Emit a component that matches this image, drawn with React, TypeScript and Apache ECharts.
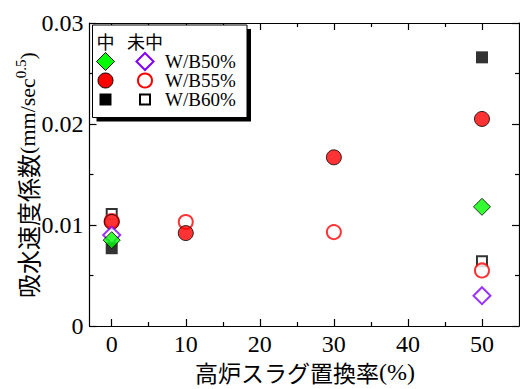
import React, { useEffect, useRef } from "react";
import * as echarts from "echarts";

// Blast-furnace slag replacement ratio (%) and water absorption rate coefficient (mm/sec^0.5)
const wb50Carb: [number, number][] = [[0, 0.0085], [50, 0.0118]];
const wb50NonCarb: [number, number][] = [[0, 0.009], [50, 0.003]];
const wb55Carb: [number, number][] = [[0, 0.0103], [10, 0.0092], [30, 0.0167], [50, 0.0205]];
const wb55NonCarb: [number, number][] = [[0, 0.0104], [10, 0.0103], [30, 0.0093], [50, 0.0055]];
const wb60Carb: [number, number][] = [[0, 0.0077], [50, 0.0266]];
const wb60NonCarb: [number, number][] = [[0, 0.0111], [50, 0.0064]];

const xMajorTicks = [0, 10, 20, 30, 40, 50];
const xMinorTicks = [5, 15, 25, 35, 45];
const legendLabels = ["W/B50%", "W/B55%", "W/B60%"];
const legendHeader = ["中", "未中"];

const SERIF = "'Times New Roman', 'Liberation Serif', serif";
const CJK = "'Noto Sans CJK JP', sans-serif";
const GREEN = "#00ff00";
const RED = "#ff0000";
const PURPLE = "#8000ff";

export default function App() {
  const ref = useRef<HTMLDivElement>(null);

  useEffect(() => {
    if (!ref.current) return;
    const chart = echarts.init(ref.current, undefined, { renderer: "svg" });

    const axisLine = { show: true, onZero: false, lineStyle: { color: "#000", width: 1.2 } };
    const tickStyle = { color: "#000", width: 1.2 };
    const tickLabel = { fontFamily: SERIF, fontSize: 24, color: "#000" };

    const xAxisBase = {
      type: "value" as const,
      min: -3,
      max: 55,
      splitLine: { show: false },
      axisLine,
    };

    const xAxes = [
      {
        ...xAxisBase,
        position: "bottom",
        axisTick: { inside: true, length: 7, customValues: xMajorTicks, lineStyle: tickStyle },
        axisLabel: { ...tickLabel, customValues: xMajorTicks, margin: 6 },
      },
      {
        ...xAxisBase,
        position: "bottom",
        axisLine: { show: false, onZero: false },
        axisTick: { inside: true, length: 4, customValues: xMinorTicks, lineStyle: tickStyle },
        axisLabel: { show: false },
      },
      {
        ...xAxisBase,
        position: "top",
        axisTick: { inside: true, length: 7, customValues: xMajorTicks, lineStyle: tickStyle },
        axisLabel: { show: false },
      },
      {
        ...xAxisBase,
        position: "top",
        axisLine: { show: false, onZero: false },
        axisTick: { inside: true, length: 4, customValues: xMinorTicks, lineStyle: tickStyle },
        axisLabel: { show: false },
      },
    ];

    const yAxisBase = {
      type: "value" as const,
      min: 0,
      max: 0.03,
      interval: 0.01,
      splitLine: { show: false },
      axisLine,
      axisTick: { inside: true, length: 7, lineStyle: tickStyle },
      minorTick: { show: true, splitNumber: 2, length: 4, lineStyle: tickStyle },
    };

    const yAxes = [
      {
        ...yAxisBase,
        position: "left",
        axisLabel: { ...tickLabel, margin: 6, formatter: (v: number) => (v === 0 ? "0" : v.toFixed(2)) },
      },
      { ...yAxisBase, position: "right", axisLabel: { show: false } },
    ];

    const scatter = (data: [number, number][], symbol: string, size: number, itemStyle: object, z: number) => ({
      type: "scatter",
      data,
      symbol,
      symbolSize: size,
      itemStyle,
      z,
      xAxisIndex: 0,
      yAxisIndex: 0,
    });

    // Legend box contents
    const lx1 = 105.5;
    const lx2 = 145;
    const rows = [61.5, 80.5, 99.5];
    const legendGraphics: any[] = [
      { type: "rect", shape: { x: 96.5, y: 29, width: 154.5, height: 92.5 }, style: { fill: "#000" }, z: 100 },
      { type: "rect", shape: { x: 92.5, y: 25, width: 154.5, height: 92.5 }, style: { fill: "#fff", stroke: "#000", lineWidth: 1 }, z: 101 },
      { type: "text", x: lx1, y: 41, style: { text: legendHeader[0], fontFamily: CJK, fontSize: 18, fill: "#000", align: "center", verticalAlign: "middle" }, z: 102 },
      { type: "text", x: lx2, y: 41, style: { text: legendHeader[1], fontFamily: CJK, fontSize: 18, fill: "#000", align: "center", verticalAlign: "middle" }, z: 102 },
      // W/B50%
      { type: "polygon", shape: { points: [[lx1, rows[0] - 9], [lx1 + 9, rows[0]], [lx1, rows[0] + 9], [lx1 - 9, rows[0]]] }, style: { fill: GREEN, stroke: "#000", lineWidth: 1 }, z: 102 },
      { type: "polygon", shape: { points: [[lx2, rows[0] - 8.5], [lx2 + 8.5, rows[0]], [lx2, rows[0] + 8.5], [lx2 - 8.5, rows[0]]] }, style: { fill: "#fff", stroke: PURPLE, lineWidth: 2 }, z: 102 },
      // W/B55%
      { type: "circle", shape: { cx: lx1, cy: rows[1], r: 7.5 }, style: { fill: RED, stroke: "#000", lineWidth: 1 }, z: 102 },
      { type: "circle", shape: { cx: lx2, cy: rows[1], r: 7 }, style: { fill: "#fff", stroke: RED, lineWidth: 2 }, z: 102 },
      // W/B60%
      { type: "rect", shape: { x: lx1 - 6, y: rows[2] - 6, width: 12, height: 12 }, style: { fill: "#000" }, z: 102 },
      { type: "rect", shape: { x: lx2 - 5, y: rows[2] - 5, width: 10, height: 10 }, style: { fill: "#fff", stroke: "#000", lineWidth: 2 }, z: 102 },
      ...legendLabels.map((t, i) => ({
        type: "text",
        x: 165,
        y: rows[i],
        style: { text: t, fontFamily: SERIF, fontSize: 19, lineHeight: 16, fill: "#000", align: "left", verticalAlign: "middle" },
        z: 102,
      })),
    ];

    chart.setOption({
      animation: false,
      backgroundColor: "#fff",
      textStyle: { fontFamily: SERIF },
      grid: { left: 89.5, right: 1, top: 23, bottom: 63, containLabel: false },
      xAxis: xAxes,
      yAxis: yAxes,
      series: [
        scatter(wb60Carb, "rect", 12, { color: "#000" }, 2),
        scatter(wb60NonCarb, "rect", 10, { color: "#fff", borderColor: "#000", borderWidth: 2 }, 3),
        scatter(wb55NonCarb, "circle", 14, { color: "#fff", borderColor: RED, borderWidth: 2 }, 4),
        scatter(wb55Carb, "circle", 15, { color: RED, borderColor: "#000", borderWidth: 1 }, 5),
        scatter(wb50NonCarb, "diamond", 17, { color: "#fff", borderColor: PURPLE, borderWidth: 2 }, 6),
        scatter(wb50Carb, "diamond", 17, { color: GREEN, borderColor: "#000", borderWidth: 1 }, 7),
      ],
      graphic: [
        {
          // y-axis title, reading bottom to top
          type: "text",
          x: 27,
          y: 175,
          rotation: Math.PI / 2,
          style: {
            text: "{j|吸水速度係数}{a|(mm/sec}{s|0.5}{a|)}",
            align: "center",
            verticalAlign: "middle",
            fill: "#000",
            rich: {
              j: { fontFamily: CJK, fontSize: 24, lineHeight: 28, fill: "#000" },
              a: { fontFamily: SERIF, fontSize: 22, lineHeight: 28, fill: "#000" },
              s: { fontFamily: SERIF, fontSize: 15, lineHeight: 15, verticalAlign: "top", fill: "#000" },
            },
          },
        },
        {
          // x-axis title
          type: "text",
          x: 305,
          y: 372,
          style: {
            text: "{j|高炉スラグ置換率}{a|(%)}",
            align: "center",
            verticalAlign: "middle",
            fill: "#000",
            rich: {
              j: { fontFamily: CJK, fontSize: 23, lineHeight: 28, fill: "#000" },
              a: { fontFamily: SERIF, fontSize: 24, lineHeight: 28, fill: "#000" },
            },
          },
        },
        ...legendGraphics,
      ],
    });

    return () => chart.dispose();
  }, []);

  return <div ref={ref} style={{ width: 520, height: 389, position: "absolute", left: 0, top: 0 }} />;
}
